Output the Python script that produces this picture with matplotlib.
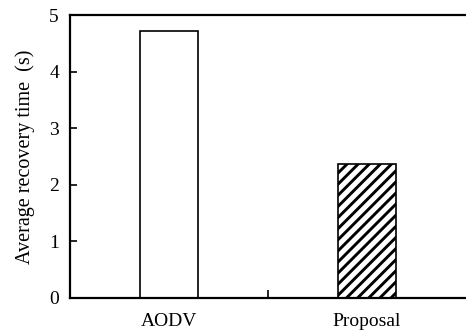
import matplotlib
matplotlib.use("Agg")
import matplotlib.pyplot as plt

categories = ["AODV", "Proposal"]
values = [4.72, 2.37]
yticks = [0, 1, 2, 3, 4, 5]

plt.rcParams['font.family'] = ['Liberation Serif', 'DejaVu Serif']
plt.rcParams['hatch.linewidth'] = 2.1

fig = plt.figure(figsize=(4.66, 3.33), dpi=100)
ax = fig.add_axes([70/466, 35/333, 400/466, 283/333])

x = list(range(len(categories)))
bars = ax.bar(x, values, width=0.29, color="white", edgecolor="black", linewidth=1.2)
bars[1].set_hatch("///")

ax.set_xlim(-0.5, 1.52)
ax.set_ylim(0, 5)
ax.set_yticks(yticks)
ax.set_yticklabels([str(t) for t in yticks], fontsize=14)
ax.tick_params(axis='y', direction='in', length=5, width=1.2, pad=8)

# category labels without tick marks, plus one divider tick between groups
ax.set_xticks(x)
ax.set_xticklabels(categories, fontsize=14)
ax.tick_params(axis='x', length=0, pad=11)
ax.set_xticks([0.5], minor=True)
ax.tick_params(axis='x', which='minor', direction='in', length=6, width=1.2)

for s in ["left", "bottom", "top"]:
    ax.spines[s].set_linewidth(1.6)
ax.spines["right"].set_visible(False)

ax.set_ylabel("Average recovery time  (s)", fontsize=14.5, labelpad=10)

fig.savefig("out.png", dpi=100)
